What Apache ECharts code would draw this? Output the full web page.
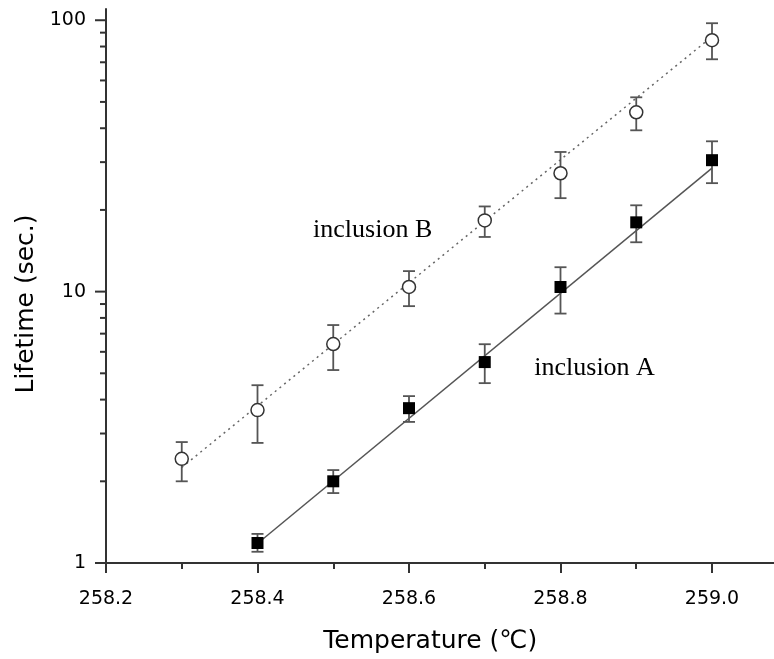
<!DOCTYPE html>
<html>
<head>
<meta charset="utf-8">
<script src="https://cdn.jsdelivr.net/npm/echarts@6/dist/echarts.min.js"></script>
<style>
html, body { margin: 0; padding: 0; background: #fff; }
#chart { width: 774px; height: 659px; }
</style>
</head>
<body>
<div id="chart"></div>
<script>
// inclusion A (filled squares)
var tempA = [258.4, 258.5, 258.6, 258.7, 258.8, 258.9, 259.0]
var lifeA = [1.185, 2.0, 3.72, 5.5, 10.4, 18.0, 30.5]
var lifeA_hi = [1.28, 2.2, 4.12, 6.4, 12.3, 20.8, 35.8]
var lifeA_lo = [1.10, 1.81, 3.31, 4.6, 8.3, 15.2, 25.1]
var fitA = [[258.4, 1.18], [259.0, 28.5]]

// inclusion B (open circles)
var tempB = [258.3, 258.4, 258.5, 258.6, 258.7, 258.8, 258.9, 259.0]
var lifeB = [2.42, 3.66, 6.41, 10.4, 18.3, 27.3, 45.8, 84.4]
var lifeB_hi = [2.79, 4.52, 7.53, 11.9, 20.6, 32.7, 52.0, 97.5]
var lifeB_lo = [2.0, 2.77, 5.14, 8.84, 15.9, 22.1, 39.3, 71.8]
var fitB = [[258.3, 2.25], [259.0, 87]]

// log axis ticks (major = decades)
var yMajorTicks = [1, 10, 100]
var yMinorTicks = [2, 3, 4, 5, 6, 7, 8, 9, 20, 30, 40, 50, 60, 70, 80, 90]

// in-plot labels
var noteText = ['inclusion B', 'inclusion A']
var noteTemp = [258.552, 258.845]
var noteLife = [16.85, 5.23]

var X_MIN = 258.2

function zip (xs, ys) {
    return xs.map(function (x, i) { return [x, ys[i]] })
}

function errorBarItem (params, api) {
    var top = api.coord([api.value(0), api.value(1)])
    var bot = api.coord([api.value(0), api.value(2)])
    var half = 6
    var style = { stroke: '#555', lineWidth: 1.8 }
    return {
        type: 'group',
        children: [
            { type: 'line', shape: { x1: top[0], y1: top[1], x2: bot[0], y2: bot[1] }, style: style },
            { type: 'line', shape: { x1: top[0] - half, y1: top[1], x2: top[0] + half, y2: top[1] }, style: style },
            { type: 'line', shape: { x1: bot[0] - half, y1: bot[1], x2: bot[0] + half, y2: bot[1] }, style: style }
        ]
    }
}

var errA = tempA.map(function (t, i) { return [t, lifeA_hi[i], lifeA_lo[i]] })
var errB = tempB.map(function (t, i) { return [t, lifeB_hi[i], lifeB_lo[i]] })

var yTicks = yMajorTicks.map(function (v) { return [X_MIN, v, 11] })
    .concat(yMinorTicks.map(function (v) { return [X_MIN, v, 6] }))

var notes = noteText.map(function (s, i) { return [noteTemp[i], noteLife[i], s] })

var myChart = echarts.init(document.getElementById('chart'))
myChart.setOption({
    animation: false,
    backgroundColor: '#fff',
    grid: {
        left: 106,
        top: 9,
        width: 757.5,
        height: 554,
        containLabel: false,
        outerBoundsMode: 'none'
    },
    xAxis: {
        type: 'value',
        min: 258.2,
        max: 259.2,
        interval: 0.2,
        name: 'Temperature (\u2103)',
        nameLocation: 'middle',
        nameGap: 66,
        nameTextStyle: {
            fontFamily: 'DejaVu Sans',
            fontSize: 25,
            color: '#000',
            padding: [0, 109, 0, 0]
        },
        axisLine: { lineStyle: { color: '#333', width: 2 } },
        axisTick: { length: 10, lineStyle: { color: '#333', width: 2 } },
        minorTick: { show: true, splitNumber: 2, length: 6, lineStyle: { color: '#333', width: 2 } },
        splitLine: { show: false },
        axisLabel: {
            margin: 27,
            fontFamily: 'DejaVu Sans',
            fontSize: 19,
            color: '#000',
            formatter: function (v) { return v.toFixed(1) }
        }
    },
    yAxis: {
        type: 'log',
        logBase: 10,
        min: 1,
        max: 110,
        name: 'Lifetime (sec.)',
        nameLocation: 'middle',
        nameGap: 66,
        nameTextStyle: {
            fontFamily: 'DejaVu Sans',
            fontSize: 25,
            color: '#000',
            padding: [0, 36, 0, 0]
        },
        axisLine: { lineStyle: { color: '#333', width: 2 } },
        axisTick: { show: false },
        splitLine: { show: false },
        axisLabel: {
            margin: 20,
            fontFamily: 'DejaVu Sans',
            fontSize: 19,
            color: '#000',
            showMaxLabel: false,
            formatter: function (v) {
                var l = Math.log10(v)
                return Math.abs(l - Math.round(l)) < 1e-6 ? String(Math.round(v)) : ''
            }
        }
    },
    series: [
        {
            name: 'y ticks',
            type: 'custom',
            clip: false,
            silent: true,
            z: 3,
            data: yTicks,
            renderItem: function (params, api) {
                var p = api.coord([api.value(0), api.value(1)])
                return {
                    type: 'line',
                    shape: { x1: p[0] - api.value(2), y1: p[1], x2: p[0], y2: p[1] },
                    style: { stroke: '#333', lineWidth: 2 }
                }
            }
        },
        {
            name: 'fit B',
            type: 'line',
            data: fitB,
            symbol: 'none',
            silent: true,
            z: 1,
            lineStyle: { color: '#666', width: 1.5, type: [2, 4] }
        },
        {
            name: 'fit A',
            type: 'line',
            data: fitA,
            symbol: 'none',
            silent: true,
            z: 1,
            lineStyle: { color: '#555', width: 1.5 }
        },
        {
            name: 'err B',
            type: 'custom',
            z: 2,
            data: errB,
            renderItem: errorBarItem
        },
        {
            name: 'err A',
            type: 'custom',
            z: 2,
            data: errA,
            renderItem: errorBarItem
        },
        {
            name: 'inclusion B',
            type: 'scatter',
            z: 4,
            data: zip(tempB, lifeB),
            symbol: 'circle',
            symbolSize: 13,
            itemStyle: { color: '#fff', borderColor: '#333', borderWidth: 1.5, opacity: 1 }
        },
        {
            name: 'inclusion A',
            type: 'scatter',
            z: 4,
            data: zip(tempA, lifeA),
            symbol: 'rect',
            symbolSize: 12,
            itemStyle: { color: '#000', opacity: 1 }
        },
        {
            name: 'notes',
            type: 'custom',
            silent: true,
            clip: false,
            z: 5,
            data: notes,
            renderItem: function (params, api) {
                var p = api.coord([api.value(0), api.value(1)])
                return {
                    type: 'text',
                    x: p[0],
                    y: p[1],
                    style: {
                        text: notes[params.dataIndex][2],
                        fontFamily: 'Liberation Serif',
                        fontSize: 26,
                        fill: '#000',
                        align: 'center',
                        verticalAlign: 'middle'
                    }
                }
            }
        }
    ]
})
</script>
</body>
</html>
